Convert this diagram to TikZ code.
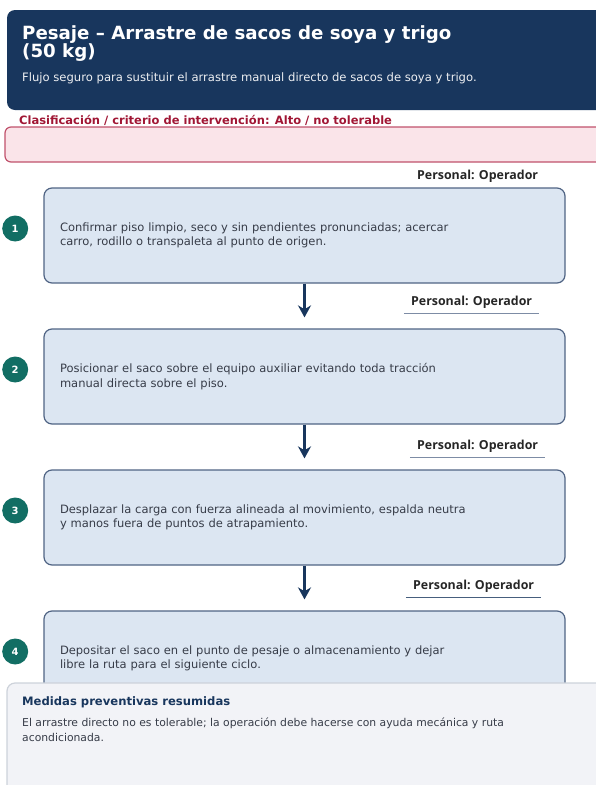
\documentclass[tikz,border=0pt]{standalone}
\usepackage{fontspec}
\setmainfont{DejaVu Sans}
\newfontfamily\stafffont{Open Sans}
\usetikzlibrary{arrows.meta, positioning}
\definecolor{headnavy}{RGB}{24,54,93}
\definecolor{riskred}{RGB}{160,22,52}
\definecolor{riskfill}{RGB}{250,228,233}
\definecolor{riskedge}{RGB}{192,82,108}
\definecolor{stepfill}{RGB}{220,230,242}
\definecolor{stepedge}{RGB}{80,100,132}
\definecolor{stepteal}{RGB}{18,110,100}
\definecolor{bodygray}{RGB}{55,60,72}
\definecolor{staffline}{RGB}{125,140,165}
\definecolor{notefill}{RGB}{242,243,247}
\definecolor{noteedge}{RGB}{205,210,218}

\begin{document}
\begin{tikzpicture}[
    x=1pt, y=-1pt,
    node distance=44.8pt,
    stepbox/.style={draw=stepedge, fill=stepfill, line width=1.2pt, rounded corners=8pt,
        minimum width=521pt, minimum height=95pt, text width=489pt, inner xsep=16pt,
        align=left, text=bodygray, font=\fontsize{11.5}{14.5}\selectfont},
    stepnum/.style={circle, fill=stepteal, text=white, minimum size=26pt, inner sep=0pt,
        font=\bfseries\fontsize{10}{10}\selectfont},
    staffnote/.style={font=\stafffont\bfseries\fontsize{12.4}{15}\selectfont, text=black!85,
        inner xsep=7pt, inner ysep=5pt},
    staffrule/.style={draw=staffline, line width=1pt},
    flow/.style={draw=headnavy, line width=2.6pt, -{Stealth[length=12pt, width=13pt]}},
]
\useasboundingbox (0,0) rectangle (595,785);

%--- Header ---
\fill[headnavy, rounded corners=8pt] (7,10) rectangle (640,110);
\node[anchor=north west, align=left, text=white, inner sep=0pt,
    font=\bfseries\fontsize{18.2}{18}\selectfont] (title) at (22,25)
    {Pesaje – Arrastre de sacos de soya y trigo\\(50 kg)};
\node[anchor=base west, inner sep=0pt, text=white!92!headnavy,
    font=\fontsize{11.6}{13}\selectfont] (subtitle) at (22,81)
    {Flujo seguro para sustituir el arrastre manual directo de sacos de soya y trigo.};

%--- Risk classification ---
\node[anchor=base west, inner sep=0pt, text=riskred,
    font=\bfseries\fontsize{11.5}{13}\selectfont] (risk) at (19,124)
    {Clasificación / criterio de intervención: Alto / no tolerable};
\draw[riskedge, fill=riskfill, line width=1.2pt, rounded corners=6pt] (5,127) rectangle (640,162);

%--- Steps ---
\node[stepbox] (s1) at (304.5,235.5)
    {Confirmar piso limpio, seco y sin pendientes pronunciadas; acercar\\
     carro, rodillo o transpaleta al punto de origen.};
\node[stepbox, below=of s1] (s2)
    {Posicionar el saco sobre el equipo auxiliar evitando toda tracción\\
     manual directa sobre el piso.};
\node[stepbox, below=of s2] (s3)
    {Desplazar la carga con fuerza alineada al movimiento, espalda neutra\\
     y manos fuera de puntos de atrapamiento.};
\node[stepbox, below=of s3] (s4)
    {Depositar el saco en el punto de pesaje o almacenamiento y dejar\\
     libre la ruta para el siguiente ciclo.};

\foreach \i in {1,...,4}
    \node[stepnum, left=15pt of s\i.west, yshift=7pt] (n\i) {\i};

% staff labels
\node[staffnote, anchor=south] (p1) at ([xshift=-88pt]s1.north east) {Personal: Operador};
\node[staffnote, anchor=south] (p2) at ([xshift=-94pt, yshift=15pt]s2.north east) {Personal: Operador};
\node[staffnote, anchor=south] (p3) at ([xshift=-88pt, yshift=12pt]s3.north east) {Personal: Operador};
\node[staffnote, anchor=south] (p4) at ([xshift=-92pt, yshift=13pt]s4.north east) {Personal: Operador};
\draw[staffrule] (p2.south west) -- (p2.south east);
\draw[staffrule] (p3.south west) -- (p3.south east);
\draw[staffrule, draw=headnavy!80] (p4.south west) -- (p4.south east);

% flow arrows
\draw[flow] (s1.south) -- ([yshift=11pt]s2.north);
\draw[flow] (s2.south) -- ([yshift=11pt]s3.north);
\draw[flow] (s3.south) -- ([yshift=11pt]s4.north);

%--- Summary panel ---
\draw[noteedge, fill=notefill, line width=1.2pt, rounded corners=8pt] (7,683) rectangle (640,830);
\node[anchor=base west, inner sep=0pt, text=headnavy,
    font=\bfseries\fontsize{11.6}{13}\selectfont] (summary) at (22,705)
    {Medidas preventivas resumidas};
\node[anchor=base west, inner sep=0pt, align=left, text=bodygray,
    font=\fontsize{10.8}{15}\selectfont] (summarybody) at (22,741)
    {El arrastre directo no es tolerable; la operación debe hacerse con ayuda mecánica y ruta\\
     acondicionada.};

\end{tikzpicture}
\end{document}
